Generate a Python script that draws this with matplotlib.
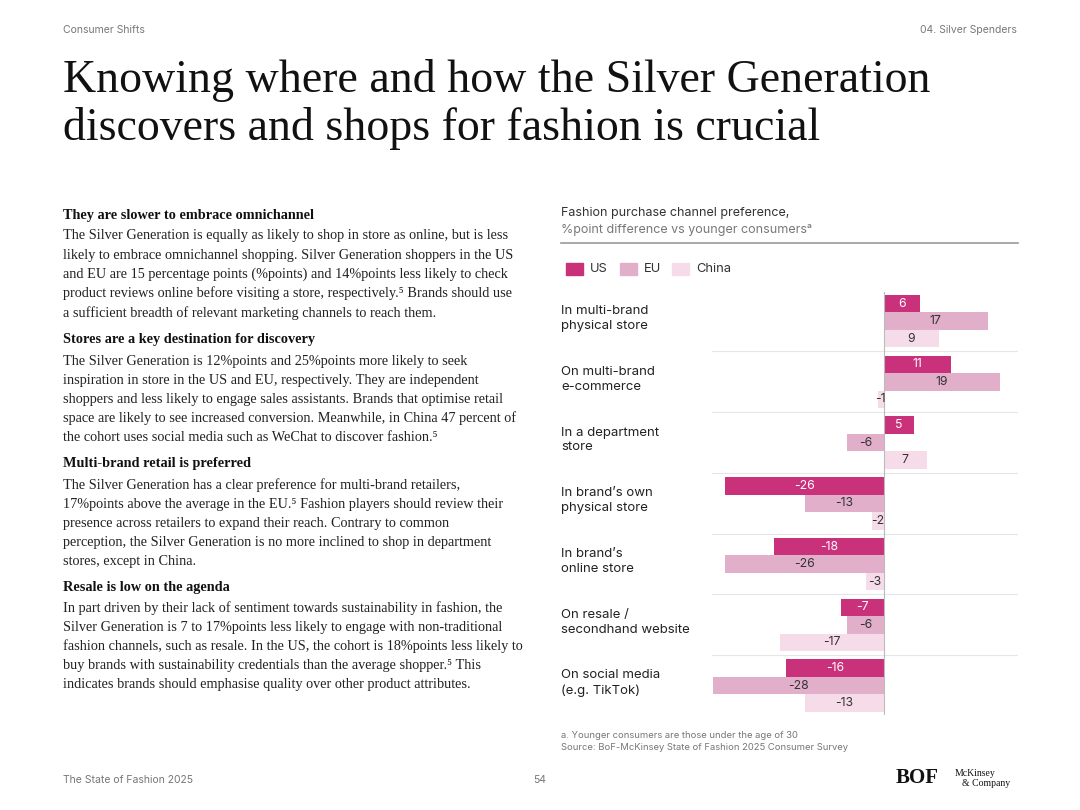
import matplotlib
matplotlib.use("Agg")
import matplotlib.pyplot as plt
from matplotlib.transforms import blended_transform_factory

categories = ["In multi-brand\nphysical store", "On multi-brand\ne-commerce", "In a department\nstore",
              "In brand\u2019s own\nphysical store", "In brand\u2019s\nonline store",
              "On resale /\nsecondhand website", "On social media\n(e.g. TikTok)"]
us = [6, 11, 5, -26, -18, -7, -16]
eu = [17, 19, -6, -13, -26, -6, -28]
china = [9, -1, 7, -2, -3, -17, -13]
series = [("US", us), ("EU", eu), ("China", china)]
colors = ["#C9317B", "#E2AFCB", "#F6DCE9"]
txtcol = ["white", "#333333", "#333333"]

W, H = 1080, 810
fig = plt.figure(figsize=(10.8, 8.1), dpi=100)
fig.patch.set_facecolor("white")
def fx(x): return x / W
def fy(y): return 1 - y / H

SANS = "Inter"
SERIF = "Liberation Serif"
GREY = "#777777"

# header
fig.text(fx(63), fy(30), "Consumer Shifts", fontsize=7.5, color=GREY, family=SANS, va="center")
fig.text(fx(1017), fy(30), "04. Silver Spenders", fontsize=7.5, color=GREY, family=SANS, va="center", ha="right")
fig.text(fx(63), fy(80), "Knowing where and how the Silver Generation", fontsize=33, family=SERIF, va="center", color="#111111")
fig.text(fx(63), fy(128), "discovers and shops for fashion is crucial", fontsize=33, family=SERIF, va="center", color="#111111")

# left column
blocks = [
    ("They are slower to embrace omnichannel", [
        "The Silver Generation is equally as likely to shop in store as online, but is less",
        "likely to embrace omnichannel shopping. Silver Generation shoppers in the US",
        "and EU are 15 percentage points (%points) and 14%points less likely to check",
        "product reviews online before visiting a store, respectively.\u2075 Brands should use",
        "a sufficient breadth of relevant marketing channels to reach them."]),
    ("Stores are a key destination for discovery", [
        "The Silver Generation is 12%points and 25%points more likely to seek",
        "inspiration in store in the US and EU, respectively. They are independent",
        "shoppers and less likely to engage sales assistants. Brands that optimise retail",
        "space are likely to see increased conversion. Meanwhile, in China 47 percent of",
        "the cohort uses social media such as WeChat to discover fashion.\u2075"]),
    ("Multi-brand retail is preferred", [
        "The Silver Generation has a clear preference for multi-brand retailers,",
        "17%points above the average in the EU.\u2075 Fashion players should review their",
        "presence across retailers to expand their reach. Contrary to common",
        "perception, the Silver Generation is no more inclined to shop in department",
        "stores, except in China."]),
    ("Resale is low on the agenda", [
        "In part driven by their lack of sentiment towards sustainability in fashion, the",
        "Silver Generation is 7 to 17%points less likely to engage with non-traditional",
        "fashion channels, such as resale. In the US, the cohort is 18%points less likely to",
        "buy brands with sustainability credentials than the average shopper.\u2075 This",
        "indicates brands should emphasise quality over other product attributes."]),
]
starts = [215, 340, 464, 587]
for (head, lines), y0 in zip(blocks, starts):
    fig.text(fx(63), fy(y0), head, fontsize=10.3, weight="bold", family=SERIF, va="center", color="#111111")
    for i, l in enumerate(lines):
        fig.text(fx(63), fy(y0 + 21 + i * 19.2), l, fontsize=10.3, family=SERIF, va="center", color="#222222")

# chart title
fig.text(fx(561), fy(213), "Fashion purchase channel preference,", fontsize=9, family=SANS, va="center", color="#333333")
fig.text(fx(561), fy(230), "%point difference vs younger consumers\u1d43", fontsize=9, family=SANS, va="center", color=GREY)
fig.add_artist(plt.Line2D([fx(561), fx(1018)], [fy(243), fy(243)], color="#999999", lw=1.2))

# legend
for (name, _), c, x0 in zip(series, colors, [566, 620, 672]):
    fig.add_artist(plt.Rectangle((fx(x0), fy(275)), fx(17), 12 / H, color=c, transform=fig.transFigure))
    fig.text(fx(x0 + 24), fy(269), name, fontsize=9.3, family=SANS, va="center", color="#333333")

# chart
ax = fig.add_axes([fx(712), fy(715), fx(1018 - 712), (715 - 292) / H])
ax.set_xlim(-28.2, 22)
ax.set_ylim(22.5, -1.66)
step = 3.47
for g in range(len(categories)):
    c0 = g * step
    for k, ((name, vals), col, tc) in enumerate(zip(series, colors, txtcol)):
        v = vals[g]
        yc = c0 + (k - 1)
        ax.barh(yc, v, height=1.0, color=col, edgecolor="none")
        ax.text(v / 2, yc, str(v), ha="center", va="center",
                fontsize=8.8, family=SANS, color=tc)
    if g < len(categories) - 1:
        ax.axhline(c0 + step / 2, color="#e6e6e6", lw=0.8)
    tr = blended_transform_factory(fig.transFigure, ax.transData)
    fig.text(fx(561), c0 - 0.15, categories[g], transform=tr, fontsize=9.5, family=SANS,
             va="center", color="#222222", linespacing=1.3)
ax.axvline(0, color="#bbbbbb", lw=0.8)
ax.axis("off")

fig.text(fx(561), fy(736), "a. Younger consumers are those under the age of 30", fontsize=6.8, family=SANS, color=GREY, va="center")
fig.text(fx(561), fy(747), "Source: BoF-McKinsey State of Fashion 2025 Consumer Survey", fontsize=6.8, family=SANS, color=GREY, va="center")

# footer
fig.text(fx(63), fy(780), "The State of Fashion 2025", fontsize=7.5, color=GREY, family=SANS, va="center")
fig.text(fx(540), fy(780), "54", fontsize=7.5, color=GREY, family=SANS, va="center", ha="center")
fig.text(fx(896), fy(778), "BOF", fontsize=15, weight="bold", family=SERIF, va="center", color="#111111")
fig.text(fx(955), fy(773), "McKinsey", fontsize=7, family=SERIF, va="center", color="#111111")
fig.text(fx(962), fy(783), "& Company", fontsize=7, family=SERIF, va="center", color="#111111")

fig.savefig("out.png", dpi=100, facecolor="white")
